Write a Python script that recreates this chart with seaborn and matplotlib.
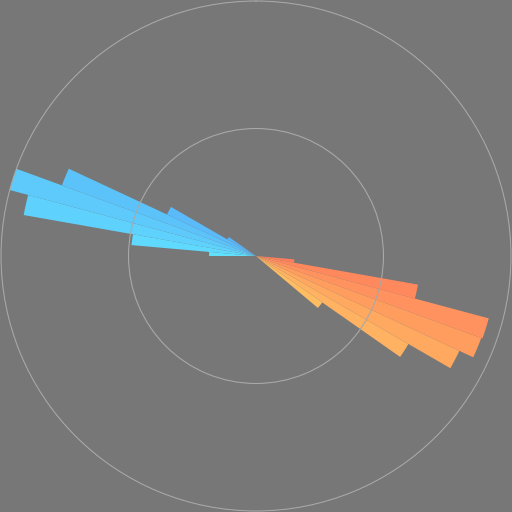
import numpy as np
import matplotlib
matplotlib.use("Agg")
import matplotlib.pyplot as plt
import seaborn as sns

# compass direction where each 5 degree sector starts, and its value
east_dirs = [95, 100, 105, 110, 115, 120, 125]
east_vals = [1.51, 6.45, 9.45, 9.4, 8.8, 6.9, 3.17]
west_dirs = [270, 275, 280, 285, 290, 295, 300]
west_vals = [1.84, 4.9, 9.25, 10.0, 8.1, 3.85, 1.3]
sector = 5
rings = [5, 10]

sns.set_style("dark")
bg = "#777777"

east_pal = sns.blend_palette(["#ff7d5c", "#ffbd62"], len(east_dirs))
west_pal = sns.blend_palette(["#60e2ff", "#5ab2f8"], len(west_dirs))

fig = plt.figure(figsize=(5.12, 5.12), dpi=100, facecolor=bg)
ax = fig.add_axes([0, 0, 1, 1], projection="polar")
ax.set_facecolor(bg)
ax.set_theta_zero_location("N")
ax.set_theta_direction(-1)

ax.bar(np.deg2rad(east_dirs), east_vals, width=np.deg2rad(sector),
       align="edge", color=east_pal, edgecolor="none", linewidth=0)
ax.bar(np.deg2rad(west_dirs), west_vals, width=np.deg2rad(sector),
       align="edge", color=west_pal, edgecolor="none", linewidth=0)

ax.set_ylim(0, 10.04)
ax.set_yticks(rings)
ax.set_yticklabels([])
ax.set_xticks([])
ax.grid(False, axis="x")
ax.grid(True, axis="y", color="#a8a8a8", linewidth=0.8)
ax.set_axisbelow(False)
ax.spines["polar"].set_visible(False)

fig.savefig("out.png", dpi=100, facecolor=bg)
